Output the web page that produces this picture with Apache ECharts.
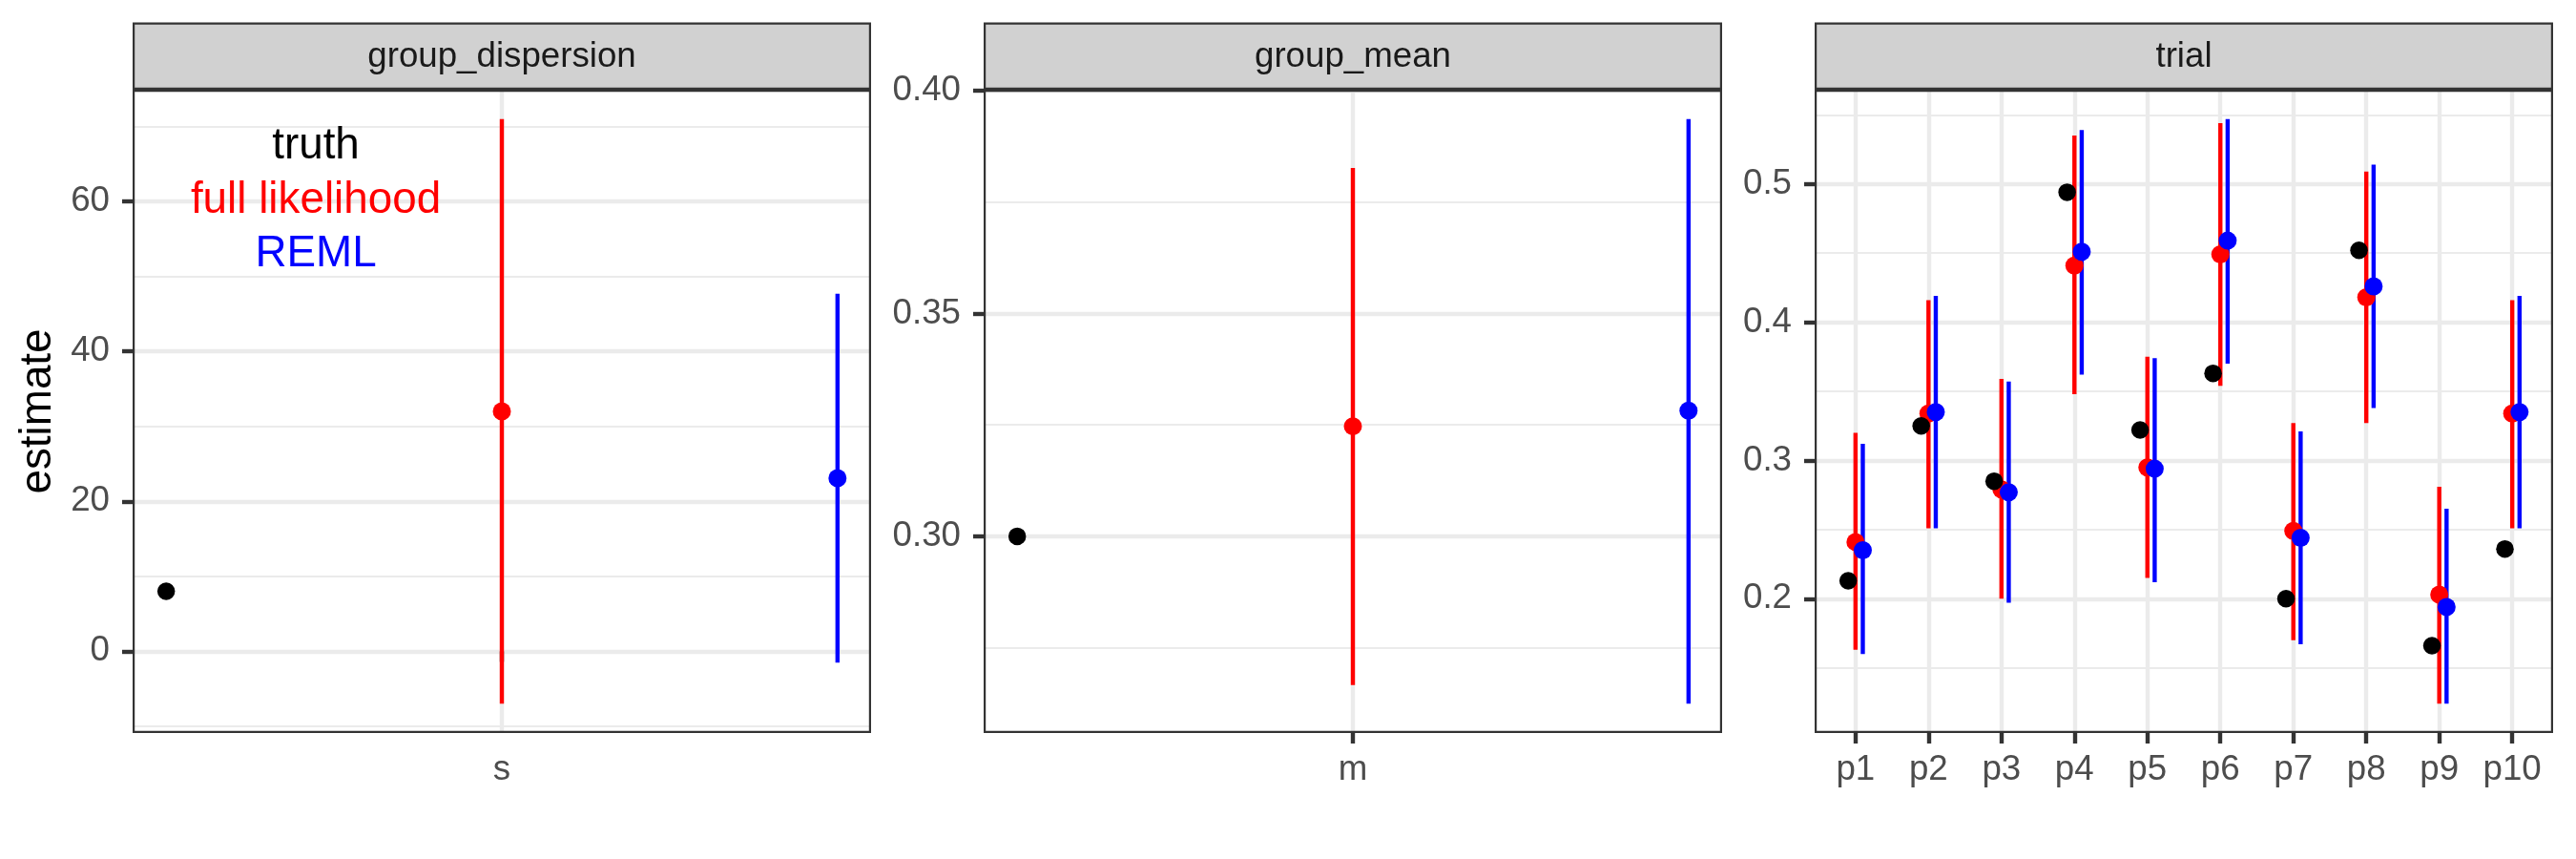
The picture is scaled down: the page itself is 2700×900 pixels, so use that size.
<!DOCTYPE html>
<html>
<head>
<meta charset="utf-8">
<script src="https://cdn.jsdelivr.net/npm/echarts@6/dist/echarts.min.js"></script>
<style>
  html, body { margin: 0; padding: 0; background: #ffffff; }
  #chart { width: 2700px; height: 900px; }
</style>
</head>
<body>
<div id="chart"></div>
<script>
// ---------------- data ----------------
const panelTitles = ['group_dispersion', 'group_mean', 'trial'];

const cat1 = ['s'];
const truth1 = [8.0];
const full1 = [32.0];
const fullLo1 = [-7.0];
const fullHi1 = [71.0];
const reml1 = [23.1];
const remlLo1 = [-1.5];
const remlHi1 = [47.7];
const yTicks1 = [0, 20, 40, 60];

const cat2 = ['m'];
const truth2 = [0.300];
const full2 = [0.3247];
const fullLo2 = [0.2666];
const fullHi2 = [0.3827];
const reml2 = [0.3282];
const remlLo2 = [0.2624];
const remlHi2 = [0.3937];
const yTicks2 = [0.30, 0.35, 0.40];

const cat3 = ['p1', 'p2', 'p3', 'p4', 'p5', 'p6', 'p7', 'p8', 'p9', 'p10'];
const truth3 = [0.213, 0.325, 0.285, 0.494, 0.322, 0.363, 0.200, 0.452, 0.166, 0.236];
const full3 = [0.241, 0.334, 0.279, 0.441, 0.295, 0.449, 0.249, 0.418, 0.203, 0.334];
const fullLo3 = [0.163, 0.251, 0.200, 0.348, 0.215, 0.354, 0.170, 0.327, 0.124, 0.251];
const fullHi3 = [0.320, 0.416, 0.359, 0.535, 0.375, 0.544, 0.327, 0.509, 0.281, 0.416];
const reml3 = [0.235, 0.335, 0.277, 0.451, 0.294, 0.459, 0.244, 0.426, 0.194, 0.335];
const remlLo3 = [0.160, 0.251, 0.197, 0.362, 0.212, 0.370, 0.167, 0.338, 0.124, 0.251];
const remlHi3 = [0.312, 0.419, 0.357, 0.539, 0.374, 0.547, 0.321, 0.514, 0.265, 0.419];
const yTicks3 = [0.2, 0.3, 0.4, 0.5];

const legendLabels = ['truth', 'full likelihood', 'REML'];
const yTitle = 'estimate';

// ---------------- styling ----------------
const FONT = "'Liberation Sans', Arial, Helvetica, sans-serif";
const COL_TRUTH = '#000000', COL_FULL = '#FF0000', COL_REML = '#0000FF';
const DODGE = 0.1;
const PANEL_W = 774, PANEL_TOP = 94, PANEL_H = 674;
const panelLefts = [139, 1031, 1902];
const STRIP_TOP = 23.5, STRIP_H = 70.5;
const GRID_COL = '#EBEBEB';
const STRIP_FILL = '#D1D1D1';

const panels = [
  { cats: cat1, truth: truth1, full: full1, fullLo: fullLo1, fullHi: fullHi1, reml: reml1, remlLo: remlLo1, remlHi: remlHi1, ticks: yTicks1, fmt: v => String(Math.round(v)), split: 5 },
  { cats: cat2, truth: truth2, full: full2, fullLo: fullLo2, fullHi: fullHi2, reml: reml2, remlLo: remlLo2, remlHi: remlHi2, ticks: yTicks2, fmt: v => Number(v).toFixed(2), split: 3 },
  { cats: cat3, truth: truth3, full: full3, fullLo: fullLo3, fullHi: fullHi3, reml: reml3, remlLo: remlLo3, remlHi: remlHi3, ticks: yTicks3, fmt: v => Number(v).toFixed(1), split: 5 }
];

function expandRange(lo, hi) {
  const pad = (hi - lo) * 0.05;
  return [lo - pad, hi + pad];
}

const grids = [], xAxes = [], yAxes = [], series = [], graphics = [];

panels.forEach((p, i) => {
  const n = p.cats.length;
  const xs = p.cats.map((c, k) => k + 1);
  const xr = expandRange(1 - DODGE, n + DODGE);
  const allY = [].concat(p.truth, p.fullLo, p.fullHi, p.remlLo, p.remlHi);
  const yr = expandRange(Math.min.apply(null, allY), Math.max.apply(null, allY));

  grids.push({ left: panelLefts[i], top: PANEL_TOP, width: PANEL_W, height: PANEL_H, containLabel: false });

  xAxes.push({
    type: 'value', gridIndex: i, min: xr[0], max: xr[1],
    axisLine: { show: false },
    axisTick: { show: true, length: 11, customValues: xs, lineStyle: { color: '#333333', width: 4.4 } },
    axisLabel: { show: true, customValues: xs, formatter: v => p.cats[Math.round(v) - 1] || '', margin: 20,
                 fontFamily: FONT, fontSize: 36.7, color: '#4D4D4D' },
    splitLine: { show: true, lineStyle: { color: GRID_COL, width: 4.4 } },
    minorSplitLine: { show: false }
  });

  yAxes.push({
    type: 'value', gridIndex: i, min: yr[0], max: yr[1], splitNumber: p.split,
    axisLine: { show: false },
    axisTick: { show: true, length: 11, customValues: p.ticks, lineStyle: { color: '#333333', width: 4.4 } },
    axisLabel: { show: true, customValues: p.ticks, formatter: p.fmt, margin: 24,
                 fontFamily: FONT, fontSize: 36.7, color: '#4D4D4D' },
    splitLine: { show: true, lineStyle: { color: GRID_COL, width: 4.4 } },
    minorTick: { show: false, splitNumber: 2 },
    minorSplitLine: { show: true, lineStyle: { color: GRID_COL, width: 2.2 } }
  });

  const barSeries = (lo, hi, off, color) => ({
    type: 'custom', xAxisIndex: i, yAxisIndex: i, z: 3, silent: true,
    data: xs.map((x, k) => [x + off, lo[k], hi[k]]),
    encode: { x: 0, y: [1, 2] },
    renderItem: (params, api) => {
      const a = api.coord([api.value(0), api.value(1)]);
      const b = api.coord([api.value(0), api.value(2)]);
      return { type: 'line', shape: { x1: a[0], y1: a[1], x2: b[0], y2: b[1] },
               style: { stroke: color, lineWidth: 4.4 } };
    }
  });
  const ptSeries = (vals, off, color, size, z) => ({
    type: 'scatter', xAxisIndex: i, yAxisIndex: i, z: z, silent: true,
    symbol: 'circle', symbolSize: size,
    itemStyle: { color: color, opacity: 1 },
    data: xs.map((x, k) => [x + off, vals[k]])
  });

  series.push(barSeries(p.fullLo, p.fullHi, 0, COL_FULL));
  series.push(ptSeries(p.full, 0, COL_FULL, 19, 4));
  series.push(barSeries(p.remlLo, p.remlHi, DODGE, COL_REML));
  series.push(ptSeries(p.reml, DODGE, COL_REML, 19, 5));
  series.push(ptSeries(p.truth, -DODGE, COL_TRUTH, 18.5, 6));

  // strip
  graphics.push({
    type: 'rect', z: 100,
    shape: { x: panelLefts[i] + 1.1, y: STRIP_TOP + 1.1, width: PANEL_W - 2.2, height: STRIP_H - 2.2 },
    style: { fill: STRIP_FILL, stroke: '#333333', lineWidth: 2.2 }
  });
  graphics.push({
    type: 'text', z: 101,
    x: panelLefts[i] + PANEL_W / 2, y: STRIP_TOP + STRIP_H / 2 + 1,
    style: { text: panelTitles[i], fontFamily: FONT, fontSize: 36.7, fill: '#1A1A1A', align: 'center', verticalAlign: 'middle' }
  });
  // panel border
  graphics.push({
    type: 'rect', z: 100,
    shape: { x: panelLefts[i] + 1.1, y: PANEL_TOP + 1.1, width: PANEL_W - 2.2, height: PANEL_H - 2.2 },
    style: { fill: 'rgba(0,0,0,0)', stroke: '#333333', lineWidth: 2.2 }
  });
});

// annotation labels in first panel
const legendCols = [COL_TRUTH, COL_FULL, COL_REML];
const legendYs = [153, 210, 266];
legendLabels.forEach((t, k) => {
  graphics.push({
    type: 'text', z: 101, x: 331, y: legendYs[k],
    style: { text: t, fontFamily: FONT, fontSize: 45.8, fill: legendCols[k], align: 'center', verticalAlign: 'middle' }
  });
});

// y title
graphics.push({
  type: 'text', z: 101, x: 40, y: PANEL_TOP + PANEL_H / 2, rotation: Math.PI / 2,
  style: { text: yTitle, fontFamily: FONT, fontSize: 45.8, fill: '#000000', align: 'center', verticalAlign: 'middle' }
});

const chart = echarts.init(document.getElementById('chart'), null, { renderer: 'canvas' });
chart.setOption({
  backgroundColor: '#FFFFFF',
  animation: false,
  grid: grids,
  xAxis: xAxes,
  yAxis: yAxes,
  series: series,
  graphic: { elements: graphics }
});
</script>
</body>
</html>
